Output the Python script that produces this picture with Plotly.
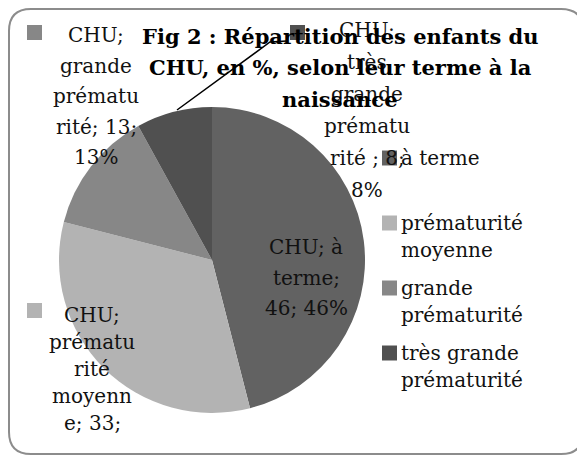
import plotly.graph_objects as go

# page body adds an 8px margin, so the figure is drawn 8px smaller and shifted
OFF = 8
W, H = 585 - OFF, 456 - OFF

# ---- data ----
group = "CHU"
categories = ["à terme", "prématurité moyenne", "grande prématurité", "très grande prématurité "]
legend_lines = [["à terme"], ["prématurité", "moyenne"], ["grande", "prématurité"], ["très grande", "prématurité"]]
values = [46, 33, 13, 8]
colors = ["#626262", "#b3b3b3", "#878787", "#505050"]
title_lines = ["Fig 2 : Répartition des enfants du", "CHU, en %, selon leur terme à la", "naissance"]

SERIF = "DejaVu Serif"


def px(x):
    return (x - OFF) / W


def py(y):
    return 1 - (y - OFF) / H


def wrap(text, widths):
    out = []
    for w in widths:
        text = text.lstrip(" ")
        out.append(text[:w])
        text = text[w:]
    return out


fig = go.Figure()

cx, cy, r = 212, 260, 153
fig.add_trace(go.Pie(
    labels=categories,
    values=values,
    sort=False,
    direction="clockwise",
    rotation=0,
    textinfo="none",
    hoverinfo="label+value+percent",
    marker=dict(colors=colors, line=dict(width=0)),
    domain=dict(x=[px(cx - r), px(cx + r)], y=[py(cy + r), py(cy - r)]),
    showlegend=False,
))

annotations = []
shapes = []

# frame (rounded rectangle)
x0, y0, x1, y1, rr = 9, 9, 583, 454, 22
path = (
    f"M {px(x0 + rr)} {py(y0)} L {px(x1 - rr)} {py(y0)} "
    f"Q {px(x1)} {py(y0)} {px(x1)} {py(y0 + rr)} L {px(x1)} {py(y1 - rr)} "
    f"Q {px(x1)} {py(y1)} {px(x1 - rr)} {py(y1)} L {px(x0 + rr)} {py(y1)} "
    f"Q {px(x0)} {py(y1)} {px(x0)} {py(y1 - rr)} L {px(x0)} {py(y0 + rr)} "
    f"Q {px(x0)} {py(y0)} {px(x0 + rr)} {py(y0)} Z"
)
shapes.append(dict(type="path", xref="paper", yref="paper", path=path,
                   line=dict(color="#8c8c8c", width=2), layer="below"))

# data labels (Excel-like wrapped labels)
label_layout = {
    0: dict(widths=[6, 6, 8], cx=306, y0=247, step=30.5, key=None),
    1: dict(widths=[4, 7, 4, 6, 6], cx=92, y0=315, step=27, key=(27, 303)),
    2: dict(widths=[4, 6, 7, 9, 3], cx=96, y0=35, step=30.5, key=(27, 25)),
    3: dict(widths=[4, 4, 6, 7, 9, 2], cx=367, y0=30, step=32, key=(290, 25)),
}
for i, cat in enumerate(categories):
    full = f"{group}; {cat}; {values[i]}; {values[i]}%"
    lay = label_layout[i]
    for j, line in enumerate(wrap(full, lay["widths"])):
        annotations.append(dict(
            x=px(lay["cx"]), y=py(lay["y0"] + j * lay["step"]), xref="paper", yref="paper",
            text=line, showarrow=False, xanchor="center", yanchor="middle",
            font=dict(family=SERIF, size=20, color="#111111"),
        ))
    if lay["key"]:
        kx, ky = lay["key"]
        shapes.append(dict(type="rect", xref="paper", yref="paper",
                           x0=px(kx), x1=px(kx + 15), y0=py(ky + 15), y1=py(ky),
                           fillcolor=colors[i], line=dict(width=0)))

# leader line for the small slice label
shapes.append(dict(type="path", xref="paper", yref="paper",
                   path=f"M {px(177)} {py(110)} L {px(270)} {py(42)} L {px(287)} {py(41)}",
                   line=dict(color="#000000", width=1.5)))

# legend (keys + wrapped names)
leg_x, leg_y0, leg_item_step, leg_line_step = 382, 158, 65, 27
for i, lines in enumerate(legend_lines):
    yc = leg_y0 + i * leg_item_step
    shapes.append(dict(type="rect", xref="paper", yref="paper",
                       x0=px(leg_x), x1=px(leg_x + 15), y0=py(yc + 7.5), y1=py(yc - 7.5),
                       fillcolor=colors[i], line=dict(width=0)))
    for j, t in enumerate(lines):
        annotations.append(dict(
            x=px(leg_x + 17), y=py(yc + j * leg_line_step), xref="paper", yref="paper",
            text=t, showarrow=False, xanchor="left", yanchor="middle",
            font=dict(family=SERIF, size=20, color="#111111"),
        ))

# title lines
for j, t in enumerate(title_lines):
    annotations.append(dict(
        x=px(340), y=py(36 + j * 31.5), xref="paper", yref="paper",
        text=f"<b>{t}</b>", showarrow=False, xanchor="center", yanchor="middle",
        font=dict(family=SERIF, size=21, color="#000000"),
    ))

fig.update_layout(
    width=W, height=H,
    margin=dict(l=0, r=0, t=0, b=0),
    paper_bgcolor="white",
    plot_bgcolor="white",
    showlegend=False,
    annotations=annotations,
    shapes=shapes,
)

fig.write_html("out.html")
